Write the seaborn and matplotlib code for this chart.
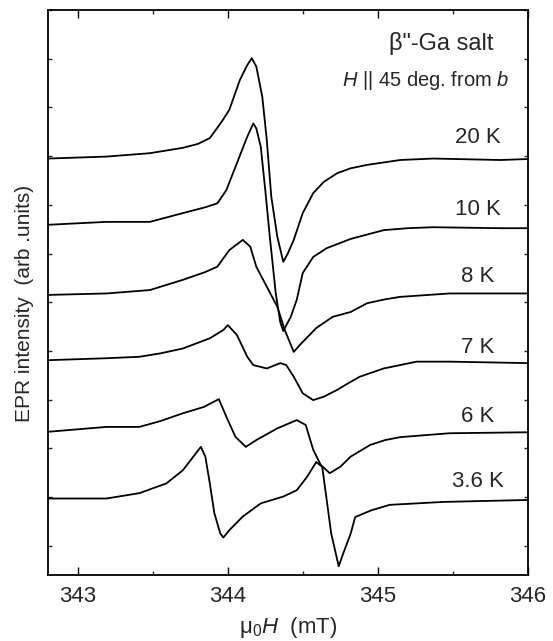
import numpy as np
import pandas as pd
import seaborn as sns
import matplotlib.pyplot as plt
from matplotlib.ticker import MultipleLocator

# EPR spectra (field in mT, intensity in arb. units, stacked)
field_20K = [342.80, 343.19, 343.48, 343.70, 343.80, 343.88, 343.96, 344.01, 344.08, 344.13,
             344.16, 344.19, 344.23, 344.26, 344.29, 344.33, 344.37, 344.40, 344.44, 344.50,
             344.57, 344.64, 344.73, 344.82, 344.93, 345.04, 345.15, 345.37, 345.82, 346.00]
sig_20K = [8.95, 8.99, 9.06, 9.17, 9.25, 9.37, 9.71, 9.95, 10.56, 10.87,
           11.01, 10.84, 10.22, 9.33, 8.17, 7.35, 6.83, 7.00, 7.28, 7.83,
           8.24, 8.47, 8.65, 8.75, 8.82, 8.87, 8.92, 8.95, 8.92, 8.94]

field_10K = [342.80, 343.19, 343.48, 343.70, 343.85, 343.93, 343.99, 344.06, 344.13, 344.17,
             344.19, 344.22, 344.25, 344.28, 344.32, 344.35, 344.37, 344.42, 344.46, 344.50,
             344.57, 344.66, 344.82, 345.04, 345.20, 345.37, 345.82, 346.00]
sig_10K = [7.59, 7.65, 7.65, 7.83, 7.95, 8.03, 8.30, 8.85, 9.40, 9.67,
           9.57, 9.19, 8.30, 7.35, 6.18, 5.59, 5.41, 5.70, 6.05, 6.60,
           6.93, 7.11, 7.30, 7.48, 7.52, 7.54, 7.52, 7.52]

field_8K = [342.80, 343.19, 343.48, 343.70, 343.85, 343.93, 344.01, 344.10, 344.15, 344.19,
            344.26, 344.33, 344.38, 344.44, 344.48, 344.59, 344.70, 344.82, 344.93, 345.05,
            345.15, 345.48, 346.00]
sig_8K = [6.15, 6.18, 6.25, 6.46, 6.62, 6.73, 7.07, 7.28, 7.14, 6.73,
          6.32, 5.91, 5.43, 4.98, 5.12, 5.47, 5.70, 5.80, 5.98, 6.06,
          6.11, 6.18, 6.18]

field_7K = [342.80, 343.19, 343.41, 343.55, 343.70, 343.88, 343.97, 344.00, 344.06, 344.13,
            344.17, 344.26, 344.35, 344.39, 344.44, 344.50, 344.57, 344.64, 344.73, 344.80,
            344.88, 345.04, 345.26, 345.48, 346.00]
sig_7K = [4.81, 4.85, 4.88, 4.95, 5.05, 5.26, 5.43, 5.53, 5.33, 4.88,
          4.71, 4.64, 4.75, 4.71, 4.47, 4.13, 3.99, 4.06, 4.20, 4.33,
          4.47, 4.64, 4.78, 4.78, 4.75]

field_6K = [342.80, 343.19, 343.41, 343.55, 343.70, 343.84, 343.94, 343.99, 344.05, 344.12,
            344.19, 344.33, 344.46, 344.52, 344.57, 344.62, 344.68, 344.75, 344.82, 344.95,
            345.05, 345.15, 345.48, 346.00]
sig_6K = [3.34, 3.44, 3.44, 3.56, 3.72, 3.85, 4.01, 3.65, 3.24, 3.03,
          3.17, 3.41, 3.58, 3.48, 2.97, 2.66, 2.49, 2.62, 2.83, 3.07,
          3.17, 3.23, 3.31, 3.33]

field_3p6K = [342.80, 343.19, 343.41, 343.59, 343.70, 343.77, 343.82, 343.85, 343.88, 343.91,
              343.95, 343.97, 344.01, 344.10, 344.22, 344.37, 344.46, 344.53, 344.59, 344.63,
              344.66, 344.69, 344.74, 344.77, 344.82, 344.85, 344.96, 345.08, 345.44, 346.00]
sig_3p6K = [1.97, 1.97, 2.08, 2.28, 2.55, 2.83, 3.03, 2.83, 2.28, 1.67,
            1.25, 1.17, 1.32, 1.60, 1.87, 2.01, 2.14, 2.42, 2.72, 2.62,
            1.94, 1.25, 0.58, 0.84, 1.25, 1.59, 1.73, 1.84, 1.90, 1.94]

temps = ["20 K", "10 K", "8 K", "7 K", "6 K", "3.6 K"]
fields = [field_20K, field_10K, field_8K, field_7K, field_6K, field_3p6K]
signals = [sig_20K, sig_10K, sig_8K, sig_7K, sig_6K, sig_3p6K]
label_y = [9.27, 7.79, 6.41, 4.96, 3.54, 2.20]

df = pd.concat([pd.DataFrame({"field": f, "signal": s, "T": t})
                for f, s, t in zip(fields, signals, temps)], ignore_index=True)

sns.set_theme(style="ticks")
plt.rcParams["font.family"] = ["Liberation Sans", "DejaVu Sans"]
plt.rcParams["mathtext.fontset"] = "custom"
plt.rcParams["mathtext.rm"] = "Liberation Sans"
plt.rcParams["mathtext.it"] = "Liberation Sans:italic"

fig = plt.figure(figsize=(5.53, 6.41), dpi=100)
ax = fig.add_axes([0.0868, 0.103, 0.8671, 0.8814])

sns.lineplot(data=df, x="field", y="signal", hue="T", units="T", estimator=None,
             sort=False, palette=["black"] * len(temps), linewidth=1.3,
             legend=False, ax=ax)

ax.set_xlim(342.8, 346.0)
ax.set_ylim(0.4, 12.0)
ax.xaxis.set_major_locator(MultipleLocator(1))
ax.xaxis.set_minor_locator(MultipleLocator(0.5))
ax.yaxis.set_major_locator(MultipleLocator(1))
ax.set_yticklabels([])
ax.tick_params(axis="x", which="major", direction="in", length=5.8, width=1.0,
               top=True, labelsize=16, pad=8, color="black")
ax.tick_params(axis="x", which="minor", direction="in", length=2.8, width=1.0, top=True)
ax.tick_params(axis="y", which="major", direction="in", length=3.0, width=1.0,
               right=True, left=True)
for s in ax.spines.values():
    s.set_linewidth(1.3)
    s.set_color("black")

ax.set_xlabel("μ$_\\mathregular{0}$$\\mathit{H}$  (mT)", fontsize=16, labelpad=6)
ax.set_ylabel("EPR intensity  (arb .units)", fontsize=15)
ax.yaxis.set_label_coords(-0.03, 0.48)

for t, y in zip(temps, label_y):
    ax.text(345.67, y, t, fontsize=16, ha="center", va="baseline")
ax.text(345.77, 11.18, 'β"-Ga salt', fontsize=17, ha="right", va="baseline")
ax.text(345.88, 10.44, "$\\mathit{H}$ || 45 deg. from $\\mathit{b}$", fontsize=14.5,
        ha="right", va="baseline")

fig.savefig("out.png", dpi=100)
